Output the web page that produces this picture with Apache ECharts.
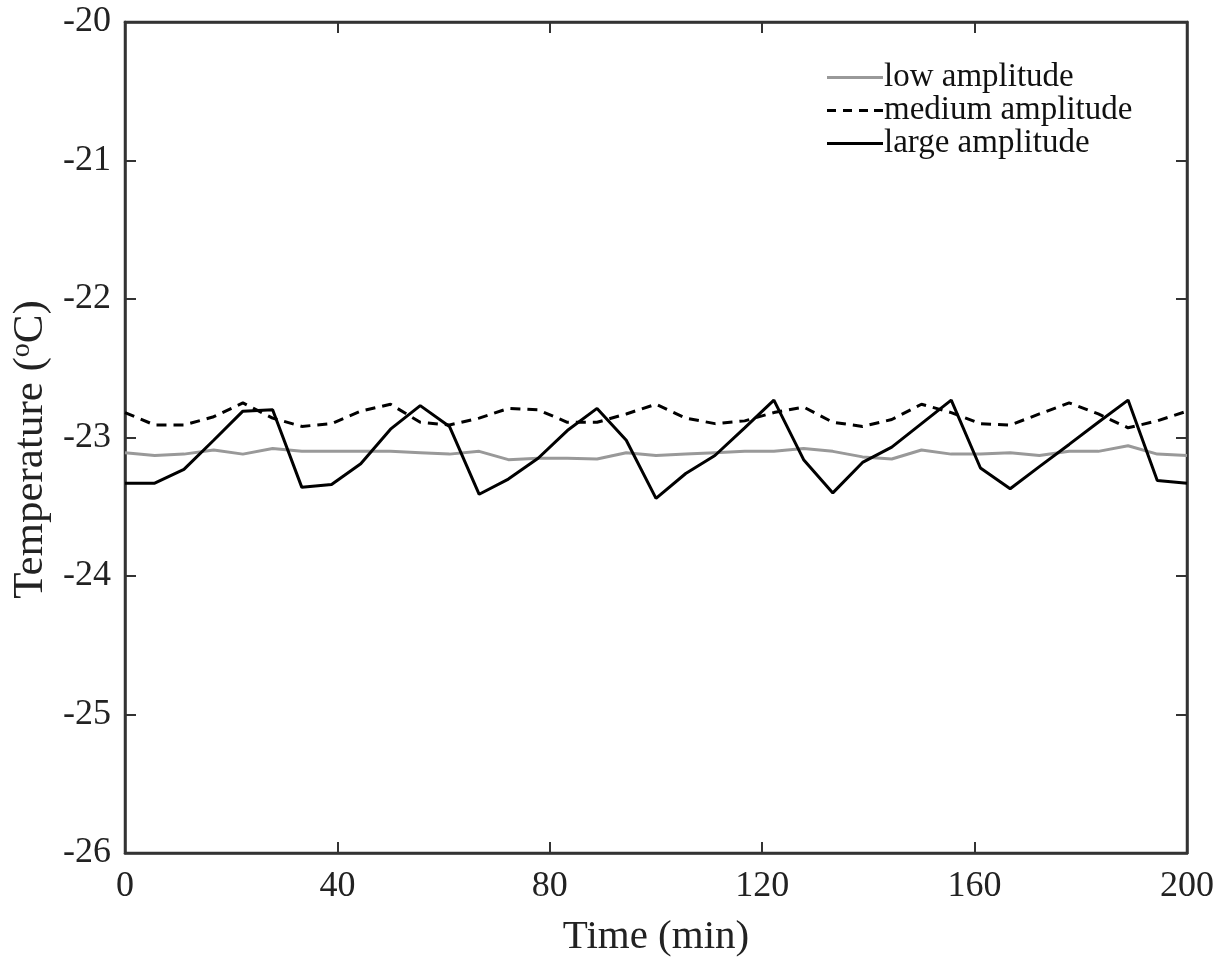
<!DOCTYPE html>
<html>
<head>
<meta charset="utf-8">
<script src="https://cdn.jsdelivr.net/npm/echarts@6/dist/echarts.min.js"></script>
</head>
<body style="margin:0;background:#fff">
<div id="main" style="width:1222px;height:960px"></div>
<script>
// time axis (min)
var times = [0, 5.6, 11.1, 16.7, 22.2, 27.8, 33.3, 38.9, 44.4, 50, 55.6, 61.1, 66.7, 72.2, 77.8,
    83.3, 88.9, 94.4, 100, 105.6, 111.1, 116.7, 122.2, 127.8, 133.3, 138.9, 144.4, 150, 155.6,
    161.1, 166.7, 172.2, 177.8, 183.3, 188.9, 194.4, 200];

var lowAmp = [-23.11, -23.13, -23.12, -23.09, -23.12, -23.08, -23.10, -23.10, -23.10, -23.10,
    -23.11, -23.12, -23.10, -23.16, -23.15, -23.15, -23.155, -23.11, -23.13, -23.12, -23.11,
    -23.10, -23.10, -23.08, -23.10, -23.14, -23.155, -23.09, -23.12, -23.12, -23.11, -23.13,
    -23.10, -23.10, -23.06, -23.12, -23.13];

var mediumAmp = [-22.82, -22.91, -22.91, -22.85, -22.75, -22.86, -22.92, -22.90, -22.81, -22.76,
    -22.89, -22.91, -22.86, -22.79, -22.80, -22.89, -22.89, -22.83, -22.76, -22.86, -22.90,
    -22.88, -22.82, -22.78, -22.89, -22.92, -22.87, -22.76, -22.82, -22.90, -22.91, -22.83,
    -22.75, -22.83, -22.93, -22.88, -22.81];

var largeAmp = [-23.33, -23.33, -23.23, -23.02, -22.81, -22.80, -23.36, -23.34, -23.19, -22.94,
    -22.77, -22.92, -23.41, -23.30, -23.15, -22.95, -22.79, -23.02, -23.44, -23.26, -23.13,
    -22.93, -22.73, -23.16, -23.40, -23.18, -23.07, -22.90, -22.73, -23.22, -23.37, -23.21,
    -23.05, -22.89, -22.73, -23.31, -23.33];

function pairs(vals) {
    return times.map(function (t, i) { return [t, vals[i]]; });
}

var font = 'Liberation Serif';
var axisColor = '#333';
var solidIcon = 'path://M0,0H56V3H0Z';
var dashIcon = 'path://M0,0H9V3H0Z M16,0H25V3H16Z M32,0H41V3H32Z M47,0H56V3H47Z';

var chart = echarts.init(document.getElementById('main'));

var tickStyle = { show: true, inside: true, length: 11, lineStyle: { color: axisColor, width: 2 } };
var lineStyleAxis = { show: true, onZero: false, lineStyle: { color: axisColor, width: 2.5 } };

var option = {
    animation: false,
    textStyle: { fontFamily: font },
    grid: {
        left: 125, right: 35, top: 22, bottom: 107,
        outerBoundsMode: 'none',
        show: true, borderColor: axisColor, borderWidth: 2.5
    },
    legend: {
        orient: 'vertical',
        left: 822,
        top: 56,
        itemWidth: 56,
        itemHeight: 3,
        itemGap: 0,
        textStyle: { fontFamily: font, fontSize: 33, lineHeight: 31, color: '#111', padding: [0, 0, 0, -4] },
        data: [
            { name: 'low amplitude', icon: solidIcon },
            { name: 'medium amplitude', icon: dashIcon },
            { name: 'large amplitude', icon: solidIcon }
        ]
    },
    xAxis: [{
        type: 'value',
        min: 0, max: 200, interval: 40,
        name: 'Time (min)',
        nameLocation: 'middle',
        nameGap: 64,
        nameTextStyle: { fontFamily: font, fontSize: 41, color: '#222' },
        axisLine: lineStyleAxis,
        axisTick: tickStyle,
        axisLabel: { fontFamily: font, fontSize: 36, color: '#222', margin: 16 },
        splitLine: { show: false }
    }, {
        type: 'value', position: 'top',
        min: 0, max: 200, interval: 40,
        axisLine: lineStyleAxis,
        axisTick: tickStyle,
        axisLabel: { show: false },
        splitLine: { show: false }
    }],
    yAxis: [{
        type: 'value',
        min: -26, max: -20, interval: 1,
        name: 'Temperature ({sup|o}C)',
        nameLocation: 'middle',
        nameGap: 60,
        nameTextStyle: {
            fontFamily: font, fontSize: 43, color: '#222',
            padding: [0, 24, 0, 0],
            rich: { sup: { fontFamily: font, fontSize: 28, verticalAlign: 'top', padding: [0, 0, 17, 0], color: '#222' } }
        },
        axisLine: lineStyleAxis,
        axisTick: tickStyle,
        axisLabel: { fontFamily: font, fontSize: 36, color: '#222', margin: 14 },
        splitLine: { show: false }
    }, {
        type: 'value', position: 'right',
        min: -26, max: -20, interval: 1,
        axisLine: lineStyleAxis,
        axisTick: tickStyle,
        axisLabel: { show: false },
        splitLine: { show: false }
    }],
    series: [{
        name: 'low amplitude',
        type: 'line',
        symbol: 'none',
        data: pairs(lowAmp),
        lineStyle: { color: '#999', width: 3 },
        itemStyle: { color: '#999' }
    }, {
        name: 'medium amplitude',
        type: 'line',
        symbol: 'none',
        data: pairs(mediumAmp),
        lineStyle: { color: '#000', width: 3, type: [10, 7] },
        itemStyle: { color: '#000' }
    }, {
        name: 'large amplitude',
        type: 'line',
        symbol: 'none',
        data: pairs(largeAmp),
        lineStyle: { color: '#000', width: 3 },
        itemStyle: { color: '#000' }
    }, {
        // keeps the top and right frame axes (with their ticks) drawn
        name: 'frame',
        type: 'line',
        xAxisIndex: 1,
        yAxisIndex: 1,
        data: [],
        silent: true
    }]
};

chart.setOption(option);
</script>
</body>
</html>
